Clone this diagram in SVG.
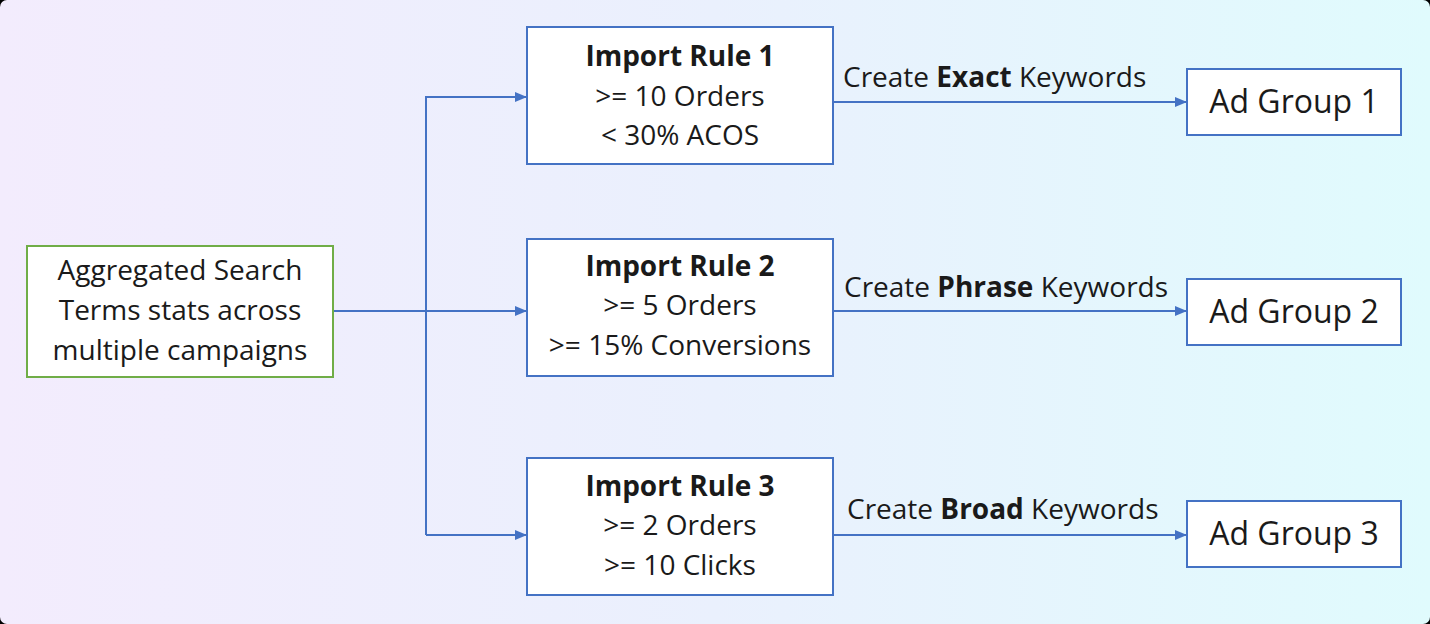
<svg xmlns="http://www.w3.org/2000/svg" width="1430" height="624" viewBox="0 0 1430 624">
<defs>
<linearGradient id="bg" x1="0" y1="0" x2="1" y2="0">
<stop offset="0" stop-color="#f3ecfd"/>
<stop offset="0.5" stop-color="#eaf0fd"/>
<stop offset="1" stop-color="#e0fbfd"/>
</linearGradient>
<marker id="arr" markerWidth="12" markerHeight="10" refX="11" refY="5" orient="auto" markerUnits="userSpaceOnUse">
<path d="M0,0 L12,5 L0,10 Z" fill="#4472c4"/>
</marker>
<style>
.node rect{fill:#ffffff;stroke-width:2}
.rule rect{stroke:#4472c4}
.src rect{stroke:#70ad47}
text{font-family:"Open Sans","Liberation Sans",sans-serif;fill:#1a1a1a;text-anchor:middle}
.t{font-size:28px}
.b{font-weight:bold}
.lbl{font-size:28px;text-anchor:start}
.ag{font-size:32px}
#connectors path{fill:none;stroke:#4472c4;stroke-width:2}
</style>
</defs>
<rect width="1430" height="624" fill="#000"/>
<rect width="1430" height="624" rx="7" fill="url(#bg)"/>
<g id="connectors">
<path d="M333,311 H526" marker-end="url(#arr)"/>
<path d="M426,535 V97 H526" marker-end="url(#arr)"/>
<path d="M426,535 H526" marker-end="url(#arr)"/>
<path d="M833,102 H1186" marker-end="url(#arr)"/>
<path d="M833,311 H1186" marker-end="url(#arr)"/>
<path d="M833,535 H1186" marker-end="url(#arr)"/>
<text class="lbl" x="843" y="87">Create <tspan class="b">Exact</tspan> Keywords</text>
<text class="lbl" x="844" y="297">Create <tspan class="b">Phrase</tspan> Keywords</text>
<text class="lbl" x="847" y="519">Create <tspan class="b">Broad</tspan> Keywords</text>
</g>
<g id="source" class="node src">
<rect x="27" y="246" width="306" height="131"/>
<text class="t" x="180" y="280">Aggregated Search</text>
<text class="t" x="180" y="320">Terms stats across</text>
<text class="t" x="180" y="360">multiple campaigns</text>
</g>
<g id="rule1" class="node rule">
<rect x="527" y="27" width="306" height="137"/>
<text class="t b" x="680" y="66">Import Rule 1</text>
<text class="t" x="680" y="106">&gt;= 10 Orders</text>
<text class="t" x="680" y="145">&lt; 30% ACOS</text>
</g>
<g id="rule2" class="node rule">
<rect x="527" y="239" width="306" height="137"/>
<text class="t b" x="680" y="276">Import Rule 2</text>
<text class="t" x="680" y="315">&gt;= 5 Orders</text>
<text class="t" x="680" y="355">&gt;= 15% Conversions</text>
</g>
<g id="rule3" class="node rule">
<rect x="527" y="458" width="306" height="137"/>
<text class="t b" x="680" y="496">Import Rule 3</text>
<text class="t" x="680" y="535">&gt;= 2 Orders</text>
<text class="t" x="680" y="575">&gt;= 10 Clicks</text>
</g>
<g id="ag1" class="node rule">
<rect x="1187" y="69" width="214" height="66"/>
<text class="ag" x="1294" y="113">Ad Group 1</text>
</g>
<g id="ag2" class="node rule">
<rect x="1187" y="279" width="214" height="66"/>
<text class="ag" x="1294" y="323">Ad Group 2</text>
</g>
<g id="ag3" class="node rule">
<rect x="1187" y="501" width="214" height="66"/>
<text class="ag" x="1294" y="545">Ad Group 3</text>
</g>
</svg>
